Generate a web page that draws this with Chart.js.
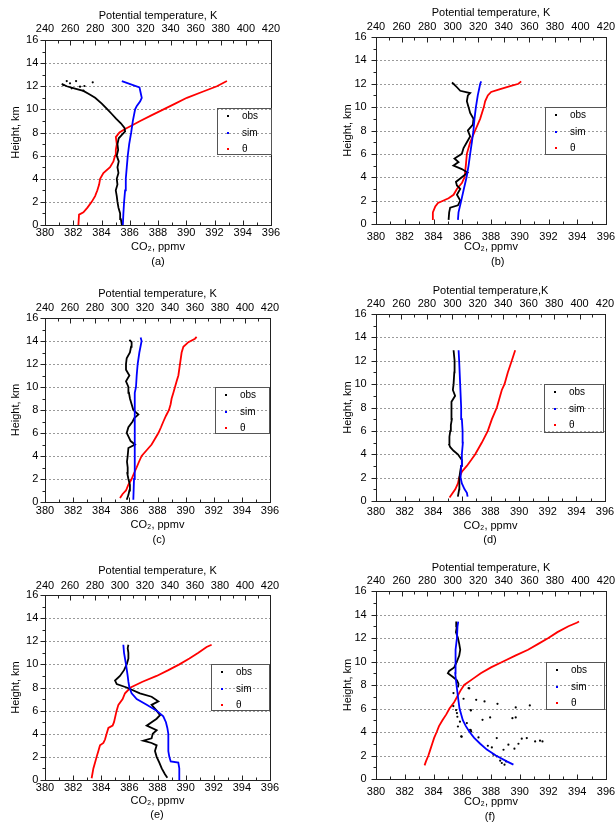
<!DOCTYPE html>
<html>
<head>
<meta charset="utf-8">
<script src="https://cdn.jsdelivr.net/npm/chart.js@4.4.1/dist/chart.umd.min.js"></script>
<style>
html,body{margin:0;padding:0;background:#fff;overflow:hidden;width:615px;height:823px;position:relative;}
</style>
</head>
<body>
<script>
// ---------- axis ticks ----------
const co2Ticks = [380,382,384,386,388,390,392,394,396];
const co2Minor = [381,383,385,387,389,391,393,395];
const thetaTicks = [240,260,280,300,320,340,360,380,400,420];
const thetaMinor = [250,270,290,310,330,350,370,390,410];
const heightTicks = [0,2,4,6,8,10,12,14,16];
const heightMinor = [1,3,5,7,9,11,13,15];
const gridHeights = [2,4,6,8,10,12,14];
const legendLabels = ['obs','sim','θ'];
const captions = ['(a)','(b)','(c)','(d)','(e)','(f)'];

// ---------- data: [CO2 ppmv, height km] and [theta K, height km] ----------
const obsA = [[385.44,0],[385.37,0.5],[385.32,1],[385.2,1.5],[385.13,2],[385.08,2.5],[385.01,3],[385.13,3.5],[385.08,4],[385.2,4.5],[385.13,5],[385.22,5.5],[385.08,6],[385.18,6.5],[385.13,7],[385.22,7.5],[385.44,7.8],[385.67,8.1],[385.63,8.4],[385.37,8.8],[385.03,9.2],[384.73,9.6],[384.42,10],[384.02,10.5],[383.55,11],[383.14,11.3],[382.72,11.6],[382.13,11.8],[381.54,12],[381.18,12.2]];
const obsAPts = [[381.54,12.45],[382.2,12.45],[383.38,12.34],[381.77,12.25],[382.48,11.96],[382.79,12.02],[381.89,11.82],[382.72,11.62],[381.3,12.1]];
const simA = [[385.51,0],[385.55,1],[385.6,2],[385.67,3],[385.72,4],[385.79,5],[385.86,6],[385.96,7],[386.1,8],[386.22,9],[386.38,10],[386.5,10.3],[386.74,10.7],[386.85,11],[386.76,11.5],[386.69,11.9],[385.44,12.45]];
const thetaA = [[266.6,0],[267.1,0.9],[270.6,1.1],[273.8,1.5],[277.2,2],[279.9,2.5],[281.7,3],[283.1,3.5],[283.9,4],[286.5,4.5],[291.8,5],[294.5,5.5],[295.8,6],[296.4,6.5],[297.2,7],[296.4,7.6],[299.3,8],[303.8,8.3],[309.1,8.6],[315.8,9],[325.1,9.5],[334.4,10],[343.7,10.5],[353.0,11],[365.0,11.5],[376.9,12],[384.9,12.45]];

const obsB = [[385.05,0.35],[385.09,1],[385.16,1.4],[385.7,1.6],[385.86,2],[385.63,2.5],[385.86,3],[385.63,3.3],[385.56,3.6],[385.97,4],[386.37,4.4],[385.97,4.7],[385.39,5],[385.74,5.3],[385.46,5.6],[385.97,6],[386.09,6.5],[386.32,7],[386.55,7.5],[386.39,8],[386.74,8.5],[386.78,9],[386.55,9.5],[386.44,10],[386.32,10.5],[386.39,11],[386.55,11.2],[385.86,11.4],[385.63,11.7],[385.39,12],[385.28,12.1]];
const simB = [[385.7,0.35],[385.74,1],[385.93,2],[386.11,3],[386.3,4],[386.44,5],[386.55,6],[386.67,7],[386.78,8],[386.85,9],[386.95,10],[387.08,11],[387.25,12],[387.32,12.2]];
const thetaB = [[284.5,0.35],[284.5,1],[286.4,1.5],[288.5,1.8],[291.6,1.95],[296.8,2.2],[300.7,2.5],[303.3,3],[307.2,3.5],[309.3,4],[310.3,5],[311.1,6],[313.7,7],[317.6,8],[321.5,9],[324.4,10],[325.4,10.5],[327.5,11],[330.1,11.3],[335.9,11.5],[345.0,11.8],[351.5,12],[353.6,12.2]];

const obsC = [[385.81,0.2],[385.93,0.6],[386.0,1],[386.04,1.5],[385.93,2],[385.85,2.5],[385.88,3],[385.83,3.5],[385.88,4],[385.93,4.7],[386.4,5],[386.09,5.3],[385.93,5.7],[385.81,6],[385.93,6.5],[386.23,7],[386.35,7.3],[386.64,7.6],[386.28,8],[386.16,8.5],[386.04,9],[385.97,9.5],[385.93,10],[385.76,10.5],[386.0,11],[385.76,11.5],[385.76,12],[385.81,12.5],[386.04,13],[386.12,13.5],[386.16,13.9],[386.0,14.1]];
const simC = [[386.28,0.2],[386.33,2],[386.35,4],[386.38,6],[386.4,8],[386.4,9.5],[386.47,10],[386.52,11],[386.59,12],[386.71,13],[386.87,14],[386.8,14.3]];
const thetaC = [[300.0,0.35],[302.1,0.7],[304.8,1],[306.7,1.5],[309.3,2],[311.2,2.5],[313.3,3],[315.2,3.5],[317.3,4],[321.3,4.5],[325.3,5],[328.0,5.5],[330.7,6],[332.8,6.5],[334.7,7],[336.8,7.5],[339.2,8],[340.5,8.5],[341.3,9],[342.7,9.5],[344.0,10],[345.3,10.5],[346.7,11],[348.0,12],[349.3,13],[350.7,13.5],[354.7,13.9],[360.0,14.2],[361.3,14.35]];

const obsD = [[385.72,0.37],[385.81,1],[385.84,1.5],[385.81,2],[385.88,2.5],[385.95,3],[386.0,3.5],[385.72,4],[385.42,4.3],[385.19,4.6],[385.12,4.8],[385.12,5],[385.14,5.5],[385.19,6],[385.23,6.5],[385.3,7],[385.26,7.5],[385.26,8],[385.3,8.5],[385.53,9],[385.37,9.5],[385.42,10],[385.47,11],[385.49,12],[385.42,12.9]];
const simD = [[386.4,0.37],[386.35,0.7],[386.19,1],[386.0,1.5],[385.91,2],[385.95,3],[386.0,4],[386.07,5],[386.05,6],[386.0,7],[385.95,8],[385.88,10],[385.81,12],[385.77,12.9]];
const thetaD = [[297.8,0.3],[299.7,0.6],[302.3,1],[304.4,1.5],[305.4,2],[307.5,2.5],[311.4,3],[314.8,3.5],[318.0,4],[323.2,5],[327.9,6],[331.1,7],[335.0,8],[337.6,9],[338.9,9.5],[341.0,10],[343.6,11],[346.7,12],[349.4,12.9]];

const obsE = [[388.7,0.2],[388.53,0.5],[388.3,1],[388.13,1.5],[387.94,2],[387.82,2.5],[387.94,3],[387.58,3.2],[386.99,3.4],[387.58,3.6],[387.66,4],[387.94,4.3],[387.23,4.7],[387.58,5],[387.94,5.3],[388.18,5.6],[387.94,6],[387.58,6.5],[388.06,6.8],[387.58,7.2],[386.75,7.5],[385.81,8],[385.1,8.3],[384.98,8.6],[385.33,9],[385.62,9.5],[385.81,10],[385.93,10.5],[385.93,11],[385.88,11.4],[385.93,11.7]];
const simE = [[389.55,0],[389.55,1],[389.48,1.5],[388.94,1.6],[388.84,2],[388.77,2.5],[388.77,3],[388.77,4],[388.7,4.5],[388.6,5],[388.41,5.5],[387.94,6],[387.23,6.5],[386.52,7],[386.16,7.5],[386.0,8],[385.93,8.5],[385.88,9],[385.76,10],[385.62,11],[385.57,11.7]];
const thetaE = [[277.3,0.15],[278.7,1],[280.0,1.5],[281.3,2],[282.7,2.5],[284.0,3],[286.7,3.2],[288.0,3.5],[289.3,4],[290.7,4.5],[294.1,4.7],[295.2,5],[297.3,6],[298.7,6.5],[302.1,7],[304.0,7.5],[308.5,8],[318.0,8.5],[329.3,9],[338.7,9.5],[347.5,10],[355.5,10.5],[362.7,11],[369.3,11.5],[373.3,11.7]];

const obsF = [[385.7,7.8],[385.74,8.1],[385.63,8.4],[385.33,8.7],[385.0,9],[385.09,9.2],[385.44,9.5],[385.63,10],[385.79,10.5],[385.86,11],[385.79,11.5],[385.7,12],[385.56,12.5],[385.63,13],[385.58,13.4]];
const obsFPts = [[386.44,7.73],[385.39,7.31],[386.49,7.72],[386.09,6.83],[386.97,6.74],[387.55,6.6],[388.45,6.4],[389.72,6.09],[390.7,6.26],[386.6,5.83],[385.63,5.61],[385.57,5.87],[386.59,5.87],[387.41,5.04],[387.94,5.24],[389.49,5.18],[389.72,5.24],[385.7,4.47],[385.84,4.88],[386.32,4.76],[386.59,4.17],[386.55,4.19],[386.62,4.05],[385.93,3.62],[385.96,3.6],[387.13,3.54],[388.4,3.48],[389.21,2.92],[389.91,3.0],[390.14,3.43],[390.49,3.48],[391.07,3.2],[391.41,3.26],[391.58,3.2],[388.87,2.49],[389.63,2.58],[387.78,2.83],[388.06,2.69],[388.17,2.07],[388.4,1.93],[388.75,1.36],[388.94,1.22],[388.64,1.56],[389.05,1.5],[385.38,6.21],[385.66,5.3]];
const simF = [[389.56,1.22],[389.1,1.5],[388.34,2],[387.71,2.5],[387.25,3],[386.83,3.5],[386.51,4],[386.25,4.5],[386.04,5],[385.81,6],[385.7,7],[385.6,8],[385.51,9],[385.51,10],[385.56,11],[385.63,12],[385.67,13],[385.72,13.4]];
const thetaF = [[278.0,1.16],[279.1,1.5],[281.0,2],[282.5,2.5],[284.0,3],[285.5,3.5],[287.5,4],[289.3,4.5],[292.0,5],[295.0,5.5],[297.5,6],[301.0,6.5],[303.5,7],[306.0,7.5],[309.0,8],[315.5,8.5],[322.0,9],[330.0,9.5],[339.5,10],[349.0,10.5],[359.0,11],[367.0,11.5],[374.9,12],[382.0,12.5],[390.6,13],[397.1,13.3],[398.9,13.4]];

// ---------- layout (canvas-relative) ----------
const FONT = '"Liberation Sans", Arial, Helvetica, sans-serif';
const panels = [
  {left:0,top:0,w:300,h:270,L:45,R:271,T:40,B:225,x2Title:'Potential temperature, K',x2TitlePad:9.4,x2Pad:4.1,xPad:1.7,xTitlePad:16.4,yTitlePad:9.1,yPad:6.7,legend:[217,108,54,46],cap:[158,262],obs:obsA,pts:obsAPts,sim:simA,theta:thetaA},
  {left:300,top:0,w:330,h:270,L:76,R:306,T:37,B:224,x2Title:'Potential temperature, K',x2TitlePad:6.7,x2Pad:3.1,xPad:6.7,xTitlePad:16.1,yTitlePad:41.7,yPad:9.3,legend:[245,107,61,47],cap:[197.7,262],obs:obsB,pts:[],sim:simB,theta:thetaB},
  {left:0,top:270,w:300,h:275,L:45,R:270,T:48,B:232,x2Title:'Potential temperature, K',x2TitlePad:17.4,x2Pad:3.1,xPad:2.1,xTitlePad:13.0,yTitlePad:9.1,yPad:6.7,legend:[215,117,54,46],cap:[159,270],obs:obsC,pts:[],sim:simC,theta:thetaC},
  {left:300,top:270,w:330,h:275,L:76,R:305,T:44,B:231,x2Title:'Potential temperature,K',x2TitlePad:14.1,x2Pad:3.1,xPad:4.7,xTitlePad:12.7,yTitlePad:41.7,yPad:9.3,legend:[244,114,59,48],cap:[190,270],obs:obsD,pts:[],sim:simD,theta:thetaD},
  {left:0,top:545,w:300,h:278,L:45,R:270,T:50,B:235,x2Title:'Potential temperature, K',x2TitlePad:19.4,x2Pad:2.7,xPad:1.7,xTitlePad:15.7,yTitlePad:9.1,yPad:6.7,legend:[211,119,58,46],cap:[157,270],obs:obsE,pts:[],sim:simE,theta:thetaE},
  {left:300,top:545,w:330,h:278,L:76,R:306,T:46,B:234,x2Title:'Potential temperature, K',x2TitlePad:16.1,x2Pad:3.4,xPad:6.7,xTitlePad:14.7,yTitlePad:41.7,yPad:9.3,legend:[246,117,58,47],cap:[190,272],obs:obsF,pts:obsFPts,sim:simF,theta:thetaF}
];

const decor = {
  id: 'decor',
  beforeDatasetsDraw(chart, args, o) {
    const {ctx, chartArea: a, scales} = chart;
    ctx.save();
    ctx.strokeStyle = '#9a9a9a'; ctx.lineWidth = 1; ctx.setLineDash([2,2]);
    gridHeights.forEach(h => {
      const y = Math.round(scales.y.getPixelForValue(h)) + 0.5;
      ctx.beginPath(); ctx.moveTo(a.left, y); ctx.lineTo(a.right, y); ctx.stroke();
    });
    ctx.restore();
  },
  afterDatasetsDraw(chart, args, o) {
    const {ctx, chartArea: a, scales} = chart;
    ctx.save();
    ctx.setLineDash([]);
    ctx.strokeStyle = '#222'; ctx.lineWidth = 1;
    const l = Math.round(a.left) + 0.5, r = Math.round(a.right) + 0.5;
    const t = Math.round(a.top) + 0.5, b = Math.round(a.bottom) + 0.5;
    ctx.strokeRect(l, t, r - l, b - t);
    const seg = (x1,y1,x2,y2) => { ctx.beginPath(); ctx.moveTo(x1,y1); ctx.lineTo(x2,y2); ctx.stroke(); };
    co2Ticks.forEach(v => { const x = Math.round(scales.x.getPixelForValue(v)) + 0.5; seg(x,b,x,b-5); });
    co2Minor.forEach(v => { const x = Math.round(scales.x.getPixelForValue(v)) + 0.5; seg(x,b,x,b-3); });
    thetaTicks.forEach(v => { const x = Math.round(scales.x2.getPixelForValue(v)) + 0.5; seg(x,t,x,t+5); });
    thetaMinor.forEach(v => { const x = Math.round(scales.x2.getPixelForValue(v)) + 0.5; seg(x,t,x,t+3); });
    heightTicks.forEach(v => { const y = Math.round(scales.y.getPixelForValue(v)) + 0.5; seg(l,y,l-5,y); });
    heightMinor.forEach(v => { const y = Math.round(scales.y.getPixelForValue(v)) + 0.5; seg(l,y,l-3,y); });
    // legend
    const [lx, ly, lw, lh] = o.legend;
    ctx.strokeStyle = '#555';
    ctx.strokeRect(lx + 0.5, ly + 0.5, lw, lh);
    const colors = ['#000','#0000ff','#ff0000'];
    const dys = [8, 25, 41];
    ctx.font = '10px ' + FONT; ctx.textBaseline = 'middle'; ctx.textAlign = 'left';
    legendLabels.forEach((txt, i) => {
      ctx.fillStyle = colors[i];
      ctx.fillRect(lx + 10, ly + dys[i] - 1, 2, 2);
      ctx.fillStyle = '#000';
      ctx.fillText(txt, lx + 25, ly + dys[i]);
    });
    // caption
    ctx.font = '11px ' + FONT; ctx.textAlign = 'center'; ctx.fillStyle = '#000';
    ctx.fillText(o.caption, o.cap[0], o.cap[1]);
    ctx.restore();
  }
};

function toXY(arr) { return arr.map(([x, y]) => ({x, y})); }

panels.forEach((p, i) => {
  const wrap = document.createElement('div');
  wrap.style.cssText = `position:absolute;left:${p.left}px;top:${p.top}px;width:${p.w}px;height:${p.h}px;`;
  const cv = document.createElement('canvas');
  cv.width = p.w; cv.height = p.h;
  cv.style.width = p.w + 'px'; cv.style.height = p.h + 'px';
  wrap.appendChild(cv); document.body.appendChild(wrap);

  const tickFont = {family: FONT, size: 11};
  const lineDs = (label, arr, color, axis) => ({
    label, data: toXY(arr), showLine: true, borderColor: color, backgroundColor: color,
    borderWidth: 1.8, pointRadius: 0, pointHoverRadius: 0, tension: 0, xAxisID: axis, yAxisID: 'y'
  });
  const datasets = [
    lineDs('sim', p.sim, '#0000ff', 'x'),
    lineDs('obs', p.obs, '#000000', 'x'),
    {label: 'obs', data: toXY(p.pts), showLine: false, pointRadius: 1.1, borderWidth: 0,
     backgroundColor: '#000', borderColor: '#000', xAxisID: 'x', yAxisID: 'y'},
    lineDs('θ', p.theta, '#ff0000', 'x2')
  ];

  new Chart(cv, {
    type: 'scatter',
    data: {datasets},
    plugins: [decor],
    options: {
      responsive: false, animation: false, devicePixelRatio: 1,
      layout: {autoPadding: false, padding: {left: 0, top: 0, right: p.w - p.R, bottom: 0}},
      plugins: {
        legend: {display: false}, tooltip: {enabled: false},
        decor: {legend: p.legend, cap: p.cap, caption: captions[i]}
      },
      scales: {
        x: {
          type: 'linear', position: 'bottom', min: 380, max: 396,
          afterBuildTicks: s => { s.ticks = co2Ticks.map(v => ({value: v})); },
          afterFit: s => { s.height = p.h - p.B; },
          ticks: {font: tickFont, color: '#000', padding: p.xPad, autoSkip: false, maxRotation: 0},
          grid: {display: false, drawTicks: false}, border: {display: false},
          title: {display: true, text: 'CO₂, ppmv', font: tickFont, color: '#000', padding: {top: 0, bottom: p.xTitlePad}}
        },
        x2: {
          type: 'linear', position: 'top', min: 240, max: 420,
          afterBuildTicks: s => { s.ticks = thetaTicks.map(v => ({value: v})); },
          afterFit: s => { s.height = p.T; },
          ticks: {font: tickFont, color: '#000', padding: p.x2Pad, autoSkip: false, maxRotation: 0},
          grid: {display: false, drawTicks: false}, border: {display: false},
          title: {display: true, text: p.x2Title, font: tickFont, color: '#000', padding: {top: p.x2TitlePad, bottom: 0}}
        },
        y: {
          type: 'linear', position: 'left', min: 0, max: 16,
          afterBuildTicks: s => { s.ticks = heightTicks.map(v => ({value: v})); },
          afterFit: s => { s.width = p.L; },
          ticks: {font: tickFont, color: '#000', padding: p.yPad, autoSkip: false},
          grid: {display: false, drawTicks: false}, border: {display: false},
          title: {display: true, text: 'Height, km', font: tickFont, color: '#000', padding: {top: p.yTitlePad, bottom: 0}}
        }
      }
    }
  });
});
</script>
</body>
</html>
